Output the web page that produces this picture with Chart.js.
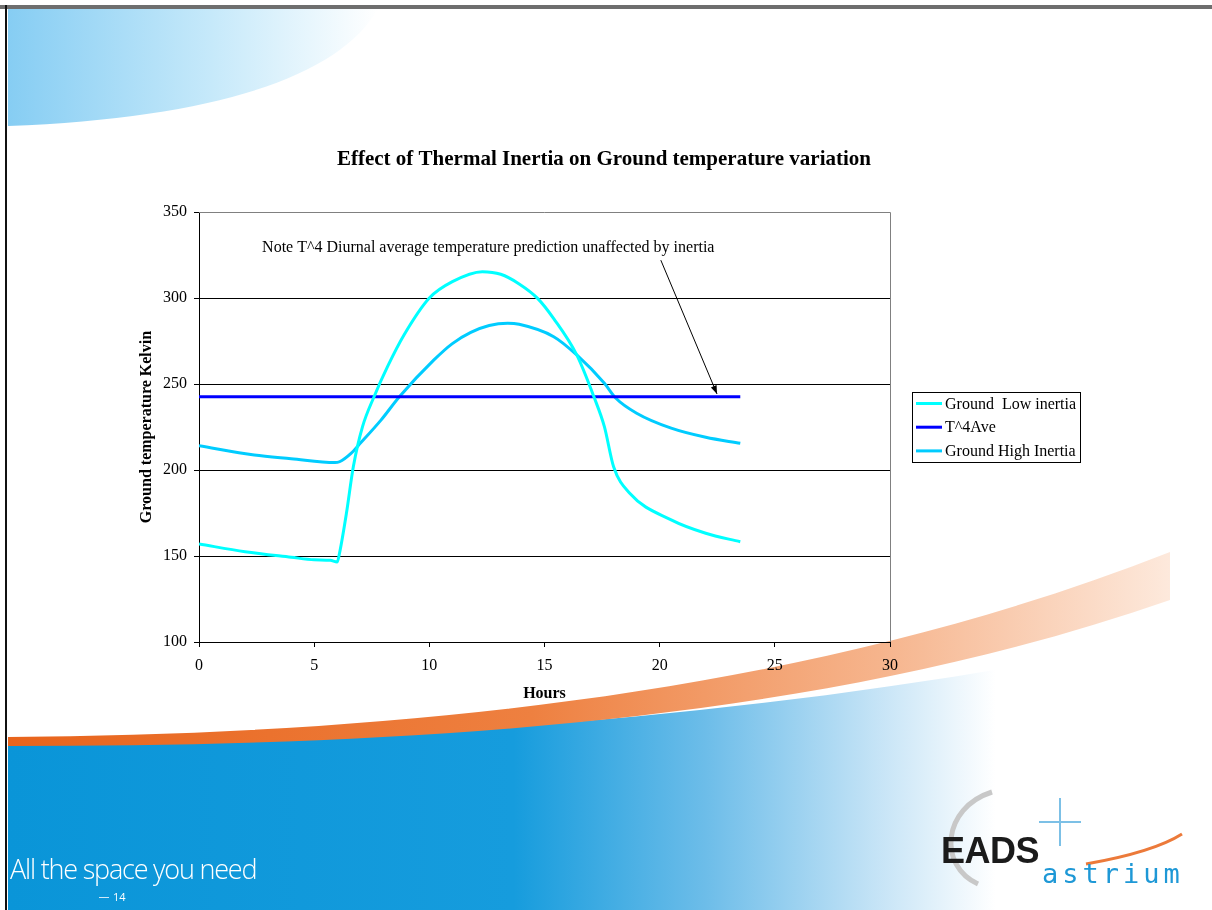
<!DOCTYPE html>
<html>
<head>
<meta charset="utf-8">
<script src="https://cdn.jsdelivr.net/npm/chart.js@4.4.0/dist/chart.umd.min.js"></script>
<style>
    html, body { margin: 0; padding: 0; background: #fff; }
    #slide { position: relative; width: 1212px; height: 910px; overflow: hidden; background: #fff; }
    #bg { position: absolute; left: 0; top: 0; }
    #chartBox { position: absolute; left: 0; top: 0; width: 1212px; height: 910px; }
    .tagline { position: absolute; left: 10px; top: 850px; color: #fff; font-family: "Open Sans", sans-serif; font-weight: 300; font-size: 27px; letter-spacing: -1.2px; }
    .pageno { position: absolute; left: 113px; top: 889px; color: #fff; font-family: "Open Sans", sans-serif; font-size: 11px; }
    .pageno:before { content: ""; position: absolute; left: -14px; top: 8px; width: 10px; height: 1px; background: #cfe9f8; }
    .eads { position: absolute; left: 941px; top: 830px; font-family: "Liberation Sans", Arial, sans-serif; font-weight: bold; font-size: 36px; color: #1b1b1b; letter-spacing: -0.5px; }
    .astrium { position: absolute; left: 1042px; top: 858px; font-family: "DejaVu Sans Mono", monospace; font-size: 27px; color: #1e98d6; letter-spacing: 4px; }
</style>
</head>
<body>
<div id="slide">
    <svg id="bg" width="1212" height="910">
        <defs>
            <linearGradient id="topBlue" x1="0" y1="0" x2="1" y2="0">
                <stop offset="0" stop-color="#86cdf3"/>
                <stop offset="0.55" stop-color="#c6e9fa"/>
                <stop offset="1" stop-color="#ffffff"/>
            </linearGradient>
            <linearGradient id="orange" x1="0" y1="0" x2="1" y2="0">
                <stop offset="0" stop-color="#e8641c"/>
                <stop offset="0.45" stop-color="#ee8040"/>
                <stop offset="0.75" stop-color="#f6b48c"/>
                <stop offset="1" stop-color="#fde9dc"/>
            </linearGradient>
            <linearGradient id="bottomBlue" x1="0" y1="0" x2="1" y2="0">
                <stop offset="0" stop-color="#0a95d8"/>
                <stop offset="0.42" stop-color="#169cdd"/>
                <stop offset="0.58" stop-color="#6dbde9"/>
                <stop offset="0.72" stop-color="#c4e3f6"/>
                <stop offset="0.82" stop-color="#ffffff"/>
                <stop offset="1" stop-color="#ffffff"/>
            </linearGradient>
        </defs>
        <path d="M 8 9 L 378 9 C 340 75 220 118 8 126 Z" fill="url(#topBlue)"/>
        <path d="M 8 745 C 400 743 800 718 1212 628 L 1212 910 L 8 910 Z" fill="url(#bottomBlue)"/>
        <path d="M 8 737 C 420 734 820 690 1170 552 L 1170 600 C 820 722 420 746 8 746 Z" fill="url(#orange)"/>
        <path d="M 978 884 C 938 866 942 808 992 792" fill="none" stroke="#c8c8c8" stroke-width="5"/>
        <path d="M 1060 798 L 1060 846 M 1039 822 L 1081 822" stroke="#7cc0e6" stroke-width="2"/>
        <path d="M 1086 864 C 1120 858 1160 848 1182 834" fill="none" stroke="#ec7a3a" stroke-width="3"/>
        <rect x="0" y="5" width="1212" height="4" fill="#6e6e6e"/>
        <rect x="5" y="5" width="2" height="905" fill="#111"/>
    </svg>
    <div id="chartBox"><canvas id="tempChart" width="1212" height="910"></canvas></div>
    <div class="tagline">All the space you need</div>
    <div class="pageno">14</div>
    <div class="eads">EADS</div>
    <div class="astrium">astrium</div>
</div>

<script>
// Hours / Kelvin values
const lowHours = [0, 2, 4, 5, 5.7, 6, 6.1, 6.4, 6.7, 7.1, 7.6, 8.2, 8.9, 10, 11, 12.3, 13.1, 13.9, 14.7, 15.4, 16.4, 17.15, 17.6, 18, 18.7, 20.5, 22, 23.5];
const lowTemps = [157, 152.5, 149.3, 147.8, 147.5, 146.5, 151.6, 174.8, 201.9, 225.2, 242.6, 260.5, 278.5, 300, 309.5, 315.3, 313.8, 308.2, 299.8, 288, 266.9, 242.4, 225.2, 201.9, 186.5, 171, 163.2, 158.3];

const aveHours = [0, 23.5];
const aveTemps = [242.6, 242.6];

const highHours = [0, 2.4, 4, 5.9, 6.1, 6.6, 7, 7.9, 8.7, 10.2, 11, 11.8, 12.6, 13.4, 13.9, 15.4, 16.4, 17.6, 18.1, 19, 20.5, 22, 23.5];
const highTemps = [214.1, 208.7, 206.6, 204.3, 204.8, 209.7, 215.5, 229, 242.6, 264, 273.5, 280, 284, 285.3, 284.7, 277.5, 266.9, 250.4, 241.7, 233, 224.3, 219, 215.5];

const seriesNames = ['Ground  Low inertia', 'T^4Ave', 'Ground High Inertia'];
const hourTicks = [0, 5, 10, 15, 20, 25, 30];
const kelvinTicks = [100, 150, 200, 250, 300, 350];

const chartTitle = 'Effect of Thermal Inertia on Ground temperature variation';
const noteText = 'Note T^4 Diurnal average temperature prediction unaffected by inertia';

const serif = '"Liberation Serif", "Times New Roman", serif';
Chart.defaults.font.family = serif;
Chart.defaults.font.size = 16;
Chart.defaults.color = '#000';

function toPoints(xs, ys) {
    return xs.map((x, i) => ({ x: x, y: ys[i] }));
}

// plot frame, title, note with arrow and the boxed legend
const slideExtras = {
    id: 'slideExtras',
    beforeDatasetsDraw(chart) {
        const { ctx, chartArea: a } = chart;
        ctx.save();
        ctx.strokeStyle = '#808080';
        ctx.lineWidth = 1;
        ctx.beginPath();
        ctx.moveTo(a.left, a.top + 0.5);
        ctx.lineTo(a.right + 0.5, a.top + 0.5);
        ctx.lineTo(a.right + 0.5, a.bottom);
        ctx.stroke();
        ctx.restore();
    },
    afterDraw(chart) {
        const { ctx, chartArea: a, scales: { x, y } } = chart;
        ctx.save();

        ctx.fillStyle = '#000';
        ctx.font = 'bold 21px ' + serif;
        ctx.textAlign = 'center';
        ctx.textBaseline = 'middle';
        ctx.fillText(chartTitle, 604, 160);

        // note + arrow
        ctx.font = '16px ' + serif;
        ctx.textAlign = 'left';
        ctx.fillText(noteText, x.getPixelForValue(2.74), y.getPixelForValue(329));
        const x0 = x.getPixelForValue(20.05), y0 = y.getPixelForValue(322);
        const x1 = x.getPixelForValue(22.49), y1 = y.getPixelForValue(244.2);
        ctx.strokeStyle = '#000';
        ctx.lineWidth = 1;
        ctx.beginPath();
        ctx.moveTo(x0, y0);
        ctx.lineTo(x1, y1);
        ctx.stroke();
        const ang = Math.atan2(y1 - y0, x1 - x0);
        ctx.beginPath();
        ctx.moveTo(x1, y1);
        ctx.lineTo(x1 - 9 * Math.cos(ang - 0.35), y1 - 9 * Math.sin(ang - 0.35));
        ctx.lineTo(x1 - 9 * Math.cos(ang + 0.35), y1 - 9 * Math.sin(ang + 0.35));
        ctx.closePath();
        ctx.fill();

        // legend
        const lx = a.right + 22, ly = 392.5;
        ctx.strokeRect(lx + 0.5, ly, 168, 70);
        chart.data.datasets.forEach((ds, i) => {
            const yy = ly + 11 + i * 23.7;
            ctx.strokeStyle = ds.borderColor;
            ctx.lineWidth = 3;
            ctx.beginPath();
            ctx.moveTo(lx + 4, yy);
            ctx.lineTo(lx + 30, yy);
            ctx.stroke();
            ctx.fillStyle = '#000';
            ctx.font = '16px ' + serif;
            ctx.fillText(ds.label, lx + 33, yy + 1);
        });
        ctx.restore();
    }
};

new Chart(document.getElementById('tempChart').getContext('2d'), {
    type: 'line',
    data: {
        datasets: [
            {
                label: seriesNames[0],
                data: toPoints(lowHours, lowTemps),
                borderColor: '#00ffff',
                borderWidth: 3,
                pointRadius: 0,
                cubicInterpolationMode: 'monotone'
            },
            {
                label: seriesNames[1],
                data: toPoints(aveHours, aveTemps),
                borderColor: '#0000ff',
                borderWidth: 3,
                pointRadius: 0
            },
            {
                label: seriesNames[2],
                data: toPoints(highHours, highTemps),
                borderColor: '#00ccff',
                borderWidth: 3,
                pointRadius: 0,
                cubicInterpolationMode: 'monotone'
            }
        ]
    },
    options: {
        responsive: false,
        animation: false,
        layout: { padding: { left: 133, top: 212, right: 322, bottom: 203 } },
        plugins: {
            legend: { display: false },
            tooltip: { enabled: false }
        },
        scales: {
            x: {
                type: 'linear',
                min: 0,
                max: 30,
                afterFit: (s) => { s.height = 65; },
                afterBuildTicks: (s) => { s.ticks = hourTicks.map(v => ({ value: v })); },
                ticks: { padding: 9, maxRotation: 0 },
                grid: { drawOnChartArea: false, tickLength: 5, tickColor: '#000' },
                border: { color: '#000', width: 1 },
                title: { display: true, text: 'Hours', font: { weight: 'bold' } }
            },
            y: {
                type: 'linear',
                min: 100,
                max: 350,
                afterFit: (s) => { s.width = 66; },
                afterBuildTicks: (s) => { s.ticks = kelvinTicks.map(v => ({ value: v })); },
                ticks: { padding: 7 },
                grid: {
                    color: (c) => (c.tick && c.tick.value === 350 ? 'rgba(0,0,0,0)' : '#000'),
                    tickLength: 5,
                    tickColor: '#000'
                },
                border: { color: '#000', width: 1 },
                title: { display: true, text: 'Ground temperature Kelvin', font: { weight: 'bold' } }
            }
        }
    },
    plugins: [slideExtras]
});
</script>
</body>
</html>
